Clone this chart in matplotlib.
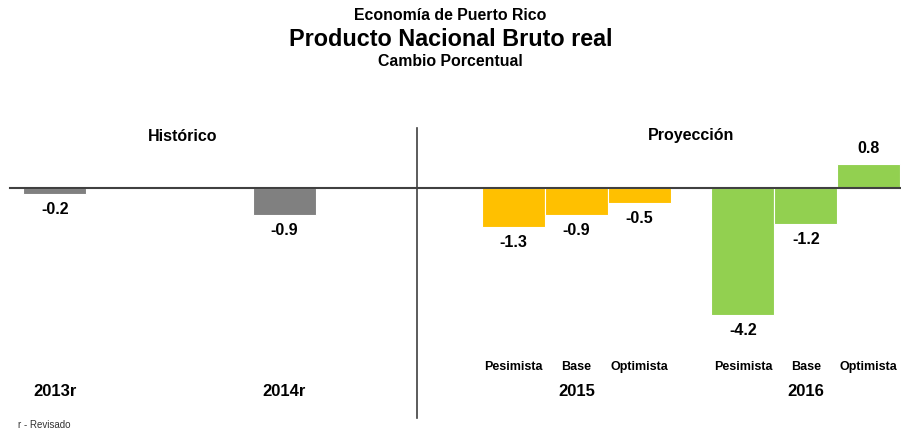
import numpy as np
import matplotlib.pyplot as plt

plt.rcParams['font.family'] = ['Liberation Sans', 'DejaVu Sans']

# Datos: cambio porcentual del PNB real
anios = ['2013r', '2014r', '2015', '2016']
escenarios = ['Pesimista', 'Base', 'Optimista']
historico = [-0.2, -0.9]
proy_2015 = [-1.3, -0.9, -0.5]
proy_2016 = [-4.2, -1.2, 0.8]

gris = '#808080'
amarillo = '#FFC000'
verde = '#92D050'

fig = plt.figure(figsize=(9.01, 4.30), dpi=100)
ax = fig.add_axes([0, 0, 1, 1])
ax.set_xlim(-0.873, 13.43)
ax.set_ylim(-8.013, 6.225)
ax.axis('off')

paso = 3.64      # distancia entre grupos
ancho = 1.0

x_hist = np.arange(len(historico)) * paso
x_2015 = 2 * paso + np.arange(3)
x_2016 = 3 * paso + np.arange(3)

ax.bar(x_hist, historico, width=ancho, color=gris, edgecolor='white', linewidth=0.8, zorder=2)
ax.bar(x_2015, proy_2015, width=ancho, color=amarillo, edgecolor='white', linewidth=0.8, zorder=2)
ax.bar(x_2016, proy_2016, width=ancho, color=verde, edgecolor='white', linewidth=0.8, zorder=2)

# Etiquetas de valor
for xs, vals in [(x_hist, historico), (x_2015, proy_2015), (x_2016, proy_2016)]:
    for x, v in zip(xs, vals):
        off = -11 if v < 0 else 11
        ax.annotate(f"{v:.1f}", (x, v), xytext=(0, off), textcoords='offset points',
                    ha='center', va='center', fontsize=11.5, fontweight='bold')

# Linea del cero y separador
ax.axhline(0, xmin=10/901, xmax=1, color='#404040', linewidth=1.5, zorder=3)
ax.plot([5.746, 5.746], [1.99, -7.62], color='#404040', linewidth=1.2)

ax.text(2.02, 1.69, 'Histórico', ha='center', va='center', fontsize=11.5, fontweight='bold')
ax.text(10.1, 1.75, 'Proyección', ha='center', va='center', fontsize=11.5, fontweight='bold')

for x, e in zip(np.concatenate([x_2015, x_2016]), escenarios * 2):
    ax.text(x, -5.93, e, ha='center', va='center', fontsize=9, fontweight='bold')

x_anios = [x_hist[0], x_hist[1], x_2015[1], x_2016[1]]
for x, a in zip(x_anios, anios):
    ax.text(x, -6.75, a, ha='center', va='center', fontsize=12, fontweight='bold')

fig.text(0.5, 1 - 16/430, 'Economía de Puerto Rico', ha='center', va='center',
         fontsize=11.4, fontweight='bold')
fig.text(0.5, 1 - 40/430, 'Producto Nacional Bruto real', ha='center', va='center',
         fontsize=16.8, fontweight='bold')
fig.text(0.5, 1 - 61/430, 'Cambio Porcentual', ha='center', va='center',
         fontsize=11.4, fontweight='bold')
fig.text(18/901, 1 - 425/430, 'r - Revisado', ha='left', va='center', fontsize=7, color='#333333')

fig.savefig('out.png', dpi=100)
